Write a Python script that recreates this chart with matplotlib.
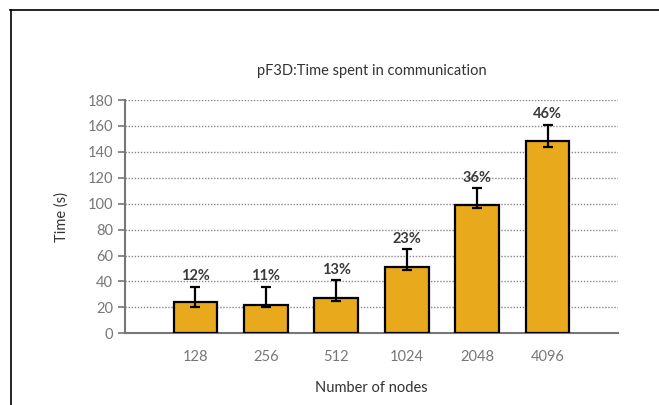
import matplotlib.pyplot as plt
import numpy as np
from matplotlib.lines import Line2D

# data
nodes = ["128", "256", "512", "1024", "2048", "4096"]
times = [24, 22, 27, 51, 99, 148]
err_low = [20, 20, 25, 49, 97, 144]
err_high = [36, 36, 41, 65, 112, 161]
percents = ["12%", "11%", "13%", "23%", "36%", "46%"]

plt.rcParams['font.family'] = ['Lato', 'DejaVu Sans']

fig = plt.figure(figsize=(6.59, 4.05), dpi=100)
ax = fig.add_axes([125 / 659, 1 - 333.3 / 405, 493 / 659, 233.3 / 405])

x = np.arange(len(nodes))
t = np.array(times)
yerr = [t - np.array(err_low), np.array(err_high) - t]

ax.bar(x, times, width=0.62, color="#E8A91D", edgecolor="black",
       linewidth=1.6, zorder=3)
ax.errorbar(x, times, yerr=yerr, fmt="none", ecolor="black", elinewidth=1.6,
            capsize=3.5, capthick=1.6, zorder=4)

for xi, hi, p in zip(x, err_high, percents):
    ax.text(xi, hi + 2.5, p, ha="center", va="bottom", fontsize=10.5,
            color="#3a3a3a", fontweight="bold")

ax.set_xlim(-1, 6)
ax.set_ylim(0, 180)
ax.set_yticks(range(0, 181, 20))
ax.set_xticks(x)
ax.set_xticklabels(nodes)
ax.yaxis.grid(True, linestyle=(0, (1, 1.2)), color="#888888", linewidth=1.0)
ax.set_axisbelow(True)

for side in ["top", "right"]:
    ax.spines[side].set_visible(False)
ax.spines["left"].set_color("#777777")
ax.spines["bottom"].set_color("#777777")
ax.spines["left"].set_linewidth(1.5)
ax.spines["bottom"].set_linewidth(1.5)
ax.tick_params(axis="y", colors="#777777", labelsize=10.5, length=5, width=1.2)
ax.tick_params(axis="x", colors="#777777", labelsize=10.5, length=0, pad=12)

ax.set_title("pF3D:Time spent in communication", fontsize=10.5, color="#333333", pad=18)
ax.set_xlabel("Number of nodes", fontsize=10.5, color="#333333", labelpad=12)
ax.set_ylabel("Time (s)", fontsize=10.5, color="#333333", labelpad=14)

# outer frame (cropped screenshot: only top and left edges visible)
fig.add_artist(Line2D([10 / 659, 1], [1 - 9.5 / 405] * 2, color="black", linewidth=1.2))
fig.add_artist(Line2D([10.5 / 659] * 2, [0, 1 - 9.5 / 405], color="black", linewidth=1.2))

fig.savefig("out.png", dpi=100)
